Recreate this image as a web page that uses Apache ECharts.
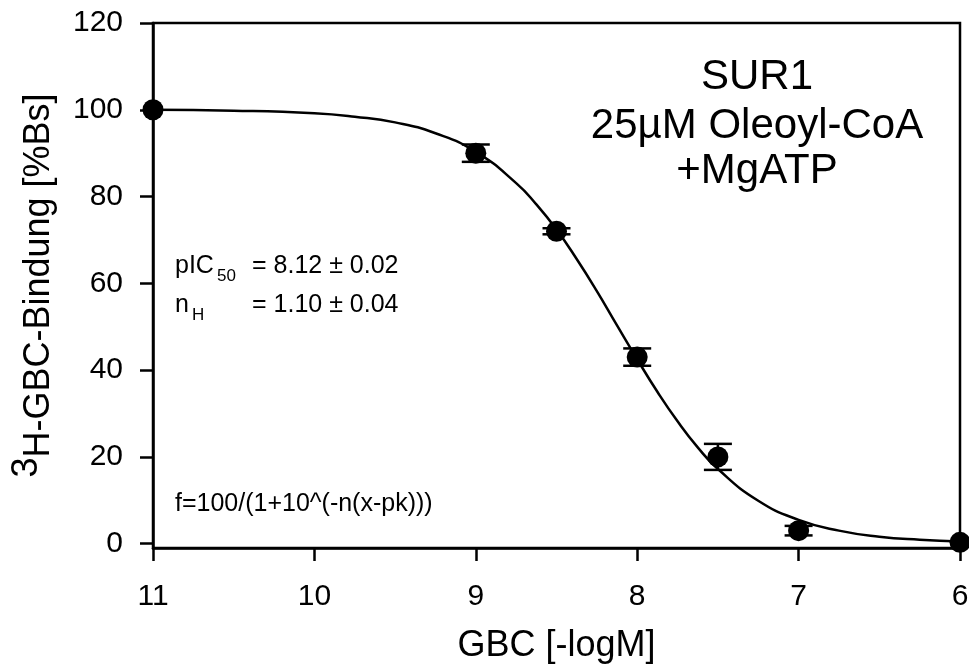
<!DOCTYPE html>
<html>
<head>
<meta charset="utf-8">
<script src="https://cdn.jsdelivr.net/npm/echarts@6/dist/echarts.min.js"></script>
<style>
html, body { margin: 0; padding: 0; background: #fff; }
#chart { width: 969px; height: 666px; }
</style>
</head>
<body>
<div id="chart"></div>
<script>
// Messpunkte
var conc = [11, 9, 8.5, 8, 7.5, 7, 6];
var binding = [100, 90, 72, 43, 20, 3, 0.3];
var sem = [0, 2, 0.7, 2, 3, 1.1, 0];

// angepasste Kurve
var fitX = [11, 10.5, 10, 9.75, 9.5, 9.25, 9, 8.75, 8.625, 8.5, 8.375, 8.25, 8.125, 8, 7.875, 7.75, 7.625, 7.5, 7.25, 7, 6.75, 6.5, 6.25, 6];
var fitY = [100, 99.8, 99.2, 98.4, 97.1, 94.6, 90.3, 83.1, 78.2, 72.4, 65.6, 58.2, 50.3, 42.5, 35.0, 28.2, 22.2, 17.2, 9.9, 5.5, 3.0, 1.6, 0.9, 0.5];

var yTicks = [0, 20, 40, 60, 80, 100, 120];

var font = '"Liberation Sans", Arial, sans-serif';

var chart = echarts.init(document.getElementById('chart'));

var points = conc.map(function (x, i) { return [x, binding[i]]; });
var bars = conc.map(function (x, i) { return [x, binding[i], sem[i]]; });
var curve = fitX.map(function (x, i) { return [x, fitY[i]]; });

function txt(text, x, y, size, align) {
    return {
        type: 'text', x: x, y: y, z: 100,
        style: {
            text: text, fontSize: size, fontFamily: font, fill: '#000',
            align: align || 'left', textAlign: align || 'left',
            verticalAlign: 'middle', textVerticalAlign: 'middle'
        }
    };
}

var option = {
    animation: false,
    backgroundColor: '#fff',
    grid: {
        left: 153, right: 9, top: 23, bottom: 118,
        outerBoundsMode: 'none',
        show: true, borderColor: '#000', borderWidth: 2.5, backgroundColor: 'transparent'
    },
    xAxis: {
        type: 'value', min: 6, max: 11, interval: 1, inverse: true,
        name: 'GBC [-logM]', nameLocation: 'middle', nameGap: 80,
        nameTextStyle: { fontSize: 36, fontFamily: font, color: '#000' },
        axisLine: { show: true, onZero: false, lineStyle: { color: '#000', width: 2.5 } },
        axisTick: { show: true, inside: false, length: 13, lineStyle: { color: '#000', width: 2.5 } },
        axisLabel: { fontSize: 30, fontFamily: font, color: '#000', margin: 34 },
        splitLine: { show: false }
    },
    yAxis: {
        type: 'value', min: -1, max: 120,
        name: '{sup|3}{n|H-GBC-Bindung [%Bs]}', nameLocation: 'middle', nameGap: 84,
        nameTextStyle: {
            fontFamily: font, color: '#000',
            rich: {
                sup: { fontSize: 36, fontFamily: font, color: '#000', lineHeight: 36, verticalAlign: 'top' },
                n: { fontSize: 36, fontFamily: font, color: '#000', lineHeight: 60, verticalAlign: 'middle' }
            }
        },
        axisLine: { show: true, onZero: false, lineStyle: { color: '#000', width: 2.5 } },
        axisTick: { show: true, inside: false, length: 13, customValues: yTicks, lineStyle: { color: '#000', width: 2.5 } },
        axisLabel: { fontSize: 30, fontFamily: font, color: '#000', margin: 30, customValues: yTicks },
        splitLine: { show: false }
    },
    series: [
        {
            type: 'line', data: curve, smooth: true,
            showSymbol: false, symbol: 'none', clip: false,
            lineStyle: { color: '#000', width: 2.5 }
        },
        {
            type: 'custom', data: bars, clip: false, z: 3,
            renderItem: function (params, api) {
                var x = api.value(0), y = api.value(1), e = api.value(2);
                if (!e) return null;
                var hi = api.coord([x, y + e]);
                var lo = api.coord([x, y - e]);
                var w = 14;
                var st = { stroke: '#000', lineWidth: 2.5 };
                return {
                    type: 'group',
                    children: [
                        { type: 'line', shape: { x1: hi[0], y1: hi[1], x2: lo[0], y2: lo[1] }, style: st },
                        { type: 'line', shape: { x1: hi[0] - w, y1: hi[1], x2: hi[0] + w, y2: hi[1] }, style: st },
                        { type: 'line', shape: { x1: lo[0] - w, y1: lo[1], x2: lo[0] + w, y2: lo[1] }, style: st }
                    ]
                };
            }
        },
        {
            type: 'scatter', data: points, symbol: 'circle', symbolSize: 21, clip: false, z: 4,
            itemStyle: { color: '#000', opacity: 1 }
        }
    ],
    graphic: [
        txt('SUR1', 757, 77, 42, 'center'),
        txt('25µM Oleoyl-CoA', 757, 126, 42, 'center'),
        txt('+MgATP', 757, 171, 42, 'center'),
        txt('pIC', 175, 266, 25),
        txt('50', 217, 276, 17),
        txt('= 8.12 ± 0.02', 252, 266, 25),
        txt('n', 175, 305, 25),
        txt('H', 192, 315, 17),
        txt('= 1.10 ± 0.04', 252, 305, 25),
        txt('f=100/(1+10^(-n(x-pk)))', 175, 504, 25)
    ]
};

chart.setOption(option);
</script>
</body>
</html>
